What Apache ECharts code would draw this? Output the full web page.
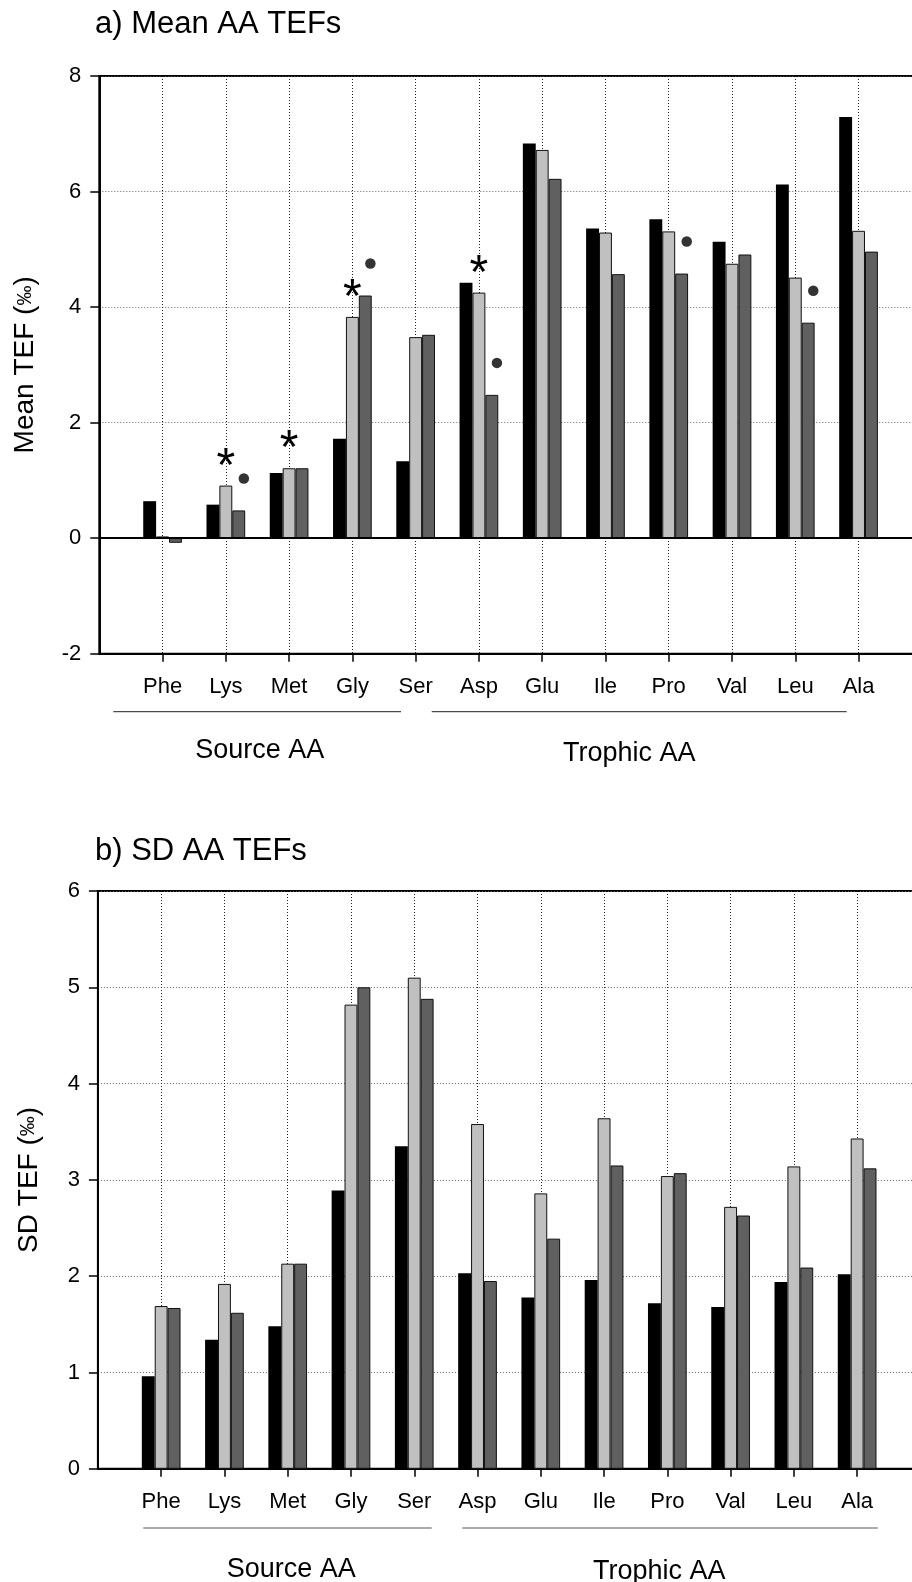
<!DOCTYPE html>
<html>
<head>
<meta charset="utf-8">
<script src="https://cdn.jsdelivr.net/npm/echarts@6.0.0/dist/echarts.min.js"></script>
<style>
  html, body { margin: 0; padding: 0; background: #fff; }
  #chart { width: 912px; height: 1582px; }
</style>
</head>
<body>
<div id="chart"></div>
<script>
// Amino acids, grouped as source (first five) and trophic (last seven)
const aminoAcids = ['Phe', 'Lys', 'Met', 'Gly', 'Ser', 'Asp', 'Glu', 'Ile', 'Pro', 'Val', 'Leu', 'Ala'];

// a) mean trophic enrichment factors (‰), three estimates per amino acid
const meanBlack = [0.64, 0.58, 1.13, 1.72, 1.33, 4.42, 6.83, 5.36, 5.52, 5.13, 6.12, 7.29];
const meanLight = [0.03, 0.91, 1.21, 3.83, 3.48, 4.25, 6.72, 5.29, 5.31, 4.75, 4.51, 5.32];
const meanDark  = [-0.08, 0.48, 1.21, 4.20, 3.52, 2.48, 6.22, 4.57, 4.58, 4.91, 3.73, 4.96];

// significance markers in panel a: asterisk over the light bar, dot beside the dark bar
const starFlags = [0, 1, 1, 1, 0, 1, 0, 0, 0, 0, 0, 0];
const dotFlags  = [0, 1, 0, 1, 0, 1, 0, 0, 1, 0, 1, 0];

// b) standard deviation of the enrichment factors (‰)
const sdBlack = [0.96, 1.34, 1.48, 2.89, 3.35, 2.03, 1.78, 1.96, 1.72, 1.68, 1.94, 2.02];
const sdLight = [1.69, 1.92, 2.13, 4.82, 5.10, 3.58, 2.86, 3.64, 3.04, 2.72, 3.14, 3.43];
const sdDark  = [1.67, 1.62, 2.13, 5.00, 4.88, 1.95, 2.39, 3.15, 3.07, 2.63, 2.09, 3.12];

// axis ranges
const meanAxis = { min: -2, max: 8, step: 2 };
const sdAxis = { min: 0, max: 6, step: 1 };

const FONT = "'Liberation Sans', Arial, Helvetica, sans-serif";
const BAR_W = 12.9;
const BAND = 63.27;

// one empty slot either side so that the amino acids sit on inner ticks
const cats = ['', ...aminoAcids, ''];
const pad = arr => ['-', ...arr, '-'];
const lastIdx = cats.length - 1;
const innerTick = i => i > 0 && i < lastIdx;

function xAxisFor(gridIndex) {
  return {
    type: 'category', gridIndex, data: cats, boundaryGap: false,
    axisLine: { show: true, onZero: false, lineStyle: { color: '#000', width: 2 } },
    axisTick: { show: true, length: 8, interval: innerTick, lineStyle: { color: '#000', width: 1.5 } },
    axisLabel: { interval: 0, margin: 22, color: '#000', fontSize: 22, fontFamily: FONT },
    splitLine: { show: true, interval: innerTick, lineStyle: { color: '#222', width: 1, type: [1, 2] } }
  };
}

function yAxisFor(gridIndex, range, unitLabel, gap) {
  return {
    type: 'value', gridIndex, min: range.min, max: range.max, interval: range.step,
    name: unitLabel, nameLocation: 'middle', nameGap: gap, nameRotate: 90,
    nameTextStyle: {
      color: '#000', fontSize: 28, fontFamily: FONT,
      rich: { s: { fontSize: 20, fontFamily: FONT, color: '#000' } }
    },
    axisLine: { show: true, lineStyle: { color: '#000', width: 2 } },
    axisTick: { show: true, length: 9, lineStyle: { color: '#000', width: 1.5 } },
    axisLabel: { margin: 18, color: '#000', fontSize: 22, fontFamily: FONT },
    splitLine: { show: true, lineStyle: { color: '#666', width: 1, type: [1, 2] } }
  };
}

function barSeries(idx, values, fill, extra) {
  return Object.assign({
    type: 'bar', xAxisIndex: idx, yAxisIndex: idx,
    data: pad(values), barWidth: BAR_W, barGap: '0%',
    itemStyle: { color: fill, borderColor: '#111', borderWidth: fill === '#000' ? 0 : 1 },
    emphasis: { disabled: true }, animation: false
  }, extra || {});
}

const chart = echarts.init(document.getElementById('chart'), null, { renderer: 'canvas' });

const option = {
  animation: false,
  grid: [
    { left: 99.3, top: 76, width: BAND * 13, height: 577.7, show: true, borderColor: '#000', borderWidth: 2, outerBoundsMode: 'none', containLabel: false },
    { left: 97.9, top: 891, width: BAND * 13, height: 577.8, show: true, borderColor: '#000', borderWidth: 2, outerBoundsMode: 'none', containLabel: false }
  ],
  xAxis: [xAxisFor(0), xAxisFor(1)],
  yAxis: [
    yAxisFor(0, meanAxis, 'Mean TEF ({s|‰})', 60),
    yAxisFor(1, sdAxis, 'SD TEF ({s|‰})', 55)
  ],
  series: [
    barSeries(0, meanBlack, '#000', {
      markLine: {
        silent: true, symbol: 'none', label: { show: false },
        lineStyle: { color: '#000', width: 2, type: 'solid' },
        data: [{ yAxis: 0 }]
      }
    }),
    barSeries(0, meanLight, '#c0c0c0', {
      label: {
        show: true, position: 'top', distance: -6,
        formatter: p => (starFlags[p.dataIndex - 1] ? '*' : ''),
        fontSize: 48, fontFamily: FONT, color: '#000'
      }
    }),
    barSeries(0, meanDark, '#606060'),
    {
      type: 'scatter', xAxisIndex: 0, yAxisIndex: 0,
      data: pad(meanDark.map((v, i) => (dotFlags[i] ? v : '-'))),
      symbol: 'circle', symbolSize: 10.5, symbolOffset: [18, -32],
      itemStyle: { color: '#000' }, z: 5, silent: true, animation: false
    },
    barSeries(1, sdBlack, '#000'),
    barSeries(1, sdLight, '#c0c0c0'),
    barSeries(1, sdDark, '#606060')
  ],
  graphic: [
    // panel titles
    { type: 'text', x: 95, y: 24.5, style: { text: 'a) Mean AA TEFs', font: `31px ${FONT}`, fill: '#000', align: 'left', verticalAlign: 'middle', textAlign: 'left', textVerticalAlign: 'middle' } },
    { type: 'text', x: 95, y: 851, style: { text: 'b) SD AA TEFs', font: `31px ${FONT}`, fill: '#000', align: 'left', verticalAlign: 'middle', textAlign: 'left', textVerticalAlign: 'middle' } },
    // amino-acid group brackets, panel a
    { type: 'line', shape: { x1: 113.3, y1: 711.7, x2: 401, y2: 711.7 }, style: { stroke: '#222', lineWidth: 1 } },
    { type: 'line', shape: { x1: 431.7, y1: 711.7, x2: 846.7, y2: 711.7 }, style: { stroke: '#222', lineWidth: 1 } },
    { type: 'text', x: 259.7, y: 751, style: { text: 'Source AA', font: `27px ${FONT}`, fill: '#000', align: 'center', verticalAlign: 'middle', textAlign: 'center', textVerticalAlign: 'middle' } },
    { type: 'text', x: 629.2, y: 753.5, style: { text: 'Trophic AA', font: `27px ${FONT}`, fill: '#000', align: 'center', verticalAlign: 'middle', textAlign: 'center', textVerticalAlign: 'middle' } },
    // amino-acid group brackets, panel b
    { type: 'line', shape: { x1: 143.3, y1: 1528, x2: 431.7, y2: 1528 }, style: { stroke: '#555', lineWidth: 1 } },
    { type: 'line', shape: { x1: 462.3, y1: 1528, x2: 877.7, y2: 1528 }, style: { stroke: '#555', lineWidth: 1 } },
    { type: 'text', x: 291.3, y: 1569.5, style: { text: 'Source AA', font: `27px ${FONT}`, fill: '#000', align: 'center', verticalAlign: 'middle', textAlign: 'center', textVerticalAlign: 'middle' } },
    { type: 'text', x: 659.2, y: 1571.5, style: { text: 'Trophic AA', font: `27px ${FONT}`, fill: '#000', align: 'center', verticalAlign: 'middle', textAlign: 'center', textVerticalAlign: 'middle' } }
  ]
};

chart.setOption(option);
</script>
</body>
</html>
